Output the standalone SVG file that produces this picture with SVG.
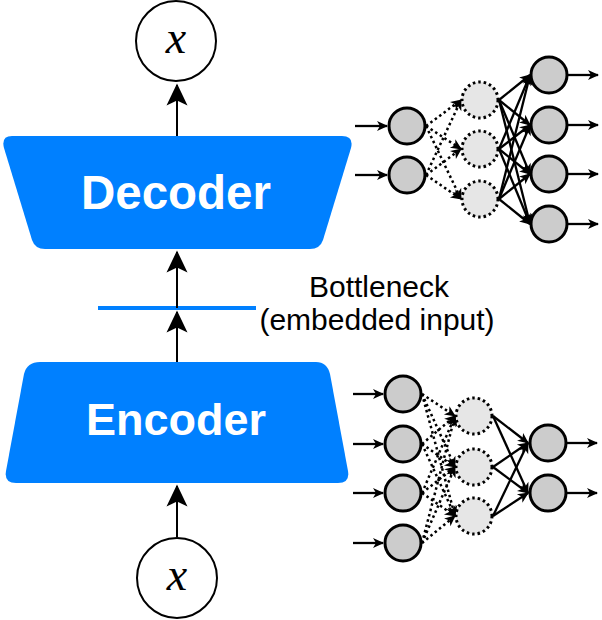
<svg xmlns="http://www.w3.org/2000/svg" width="602" height="620" viewBox="0 0 602 620">
<style>
.blk{fill:#0080ff}
.lbl{font-family:"Liberation Sans",Arial,sans-serif;font-weight:bold;fill:#fff;text-anchor:middle}
.bn{font-family:"Liberation Sans",Arial,sans-serif;font-size:30px;fill:#000;text-anchor:middle}
.xc{fill:#fff;stroke:#000;stroke-width:2}
.xt{font-family:"Liberation Serif","Times New Roman",serif;font-style:italic;font-size:46px;fill:#000;text-anchor:middle}
.n{fill:#cccccc;stroke:#000;stroke-width:3}
.h{fill:#e6e6e6;stroke:#000;stroke-width:3;stroke-dasharray:2.5 3}
.big{stroke:#000;stroke-width:2;fill:none;marker-end:url(#ab)}
.s{stroke:#000;stroke-width:2.3;fill:none;marker-end:url(#as)}
.d{stroke:#000;stroke-width:2.5;stroke-dasharray:2.5 3;fill:none;marker-end:url(#as)}
</style>
<defs>
<marker id="ab" markerUnits="userSpaceOnUse" viewBox="-24 -12 26 24" markerWidth="26" markerHeight="24" refX="-1.5" refY="0" orient="auto"><path d="M0,0 L-22,-10.5 L-17,0 L-22,10.5 Z" fill="#000"/></marker>
<marker id="as" markerUnits="userSpaceOnUse" viewBox="-12 -7 14 14" markerWidth="14" markerHeight="14" refX="-1" refY="0" orient="auto"><path d="M0,0 L-11,-5 L-8,0 L-11,5 Z" fill="#000"/></marker>
</defs>

<g id="decoder">
<path class="blk" d="M12,136 L342,136 Q354,136 351,148 L323,240 Q320,249 310,249 L45,249 Q35,249 32,240 L4,148 Q1,136 12,136 Z"/>
<text class="lbl" x="176" y="209" font-size="47.5">Decoder</text>
</g>
<g id="encoder">
<path class="blk" d="M40,362 L316,362 Q327,362 330,374 L348,471 Q350,483 338,483 L16,483 Q4,483 6,471 L24,374 Q27,362 40,362 Z"/>
<text class="lbl" x="176" y="435" font-size="45">Encoder</text>
</g>
<g id="x-out">
<circle class="xc" cx="176" cy="41" r="40"/>
<text class="xt" x="176" y="53">x</text>
</g>
<g id="x-in">
<circle class="xc" cx="177" cy="578" r="40"/>
<text class="xt" x="177" y="590">x</text>
</g>
<g id="bottleneck">
<line x1="98" y1="308" x2="256" y2="308" stroke="#0080ff" stroke-width="4"/>
<text class="bn" x="379" y="297">Bottleneck</text>
<text class="bn" x="377" y="330">(embedded input)</text>
</g>

<g id="decoder-net">
<circle class="n" cx="407" cy="126" r="18"/>
<circle class="n" cx="407" cy="175" r="18"/>
<circle class="h" cx="480" cy="100" r="18"/>
<circle class="h" cx="480" cy="149" r="18"/>
<circle class="h" cx="480" cy="199" r="18"/>
<circle class="n" cx="549" cy="75" r="18"/>
<circle class="n" cx="549" cy="125" r="18"/>
<circle class="n" cx="549" cy="174" r="18"/>
<circle class="n" cx="549" cy="224" r="18"/>
</g>
<g id="encoder-net">
<circle class="n" cx="403" cy="394" r="18"/>
<circle class="n" cx="403" cy="444" r="18"/>
<circle class="n" cx="403" cy="493" r="18"/>
<circle class="n" cx="403" cy="543" r="18"/>
<circle class="h" cx="474" cy="416" r="18"/>
<circle class="h" cx="474" cy="467" r="18"/>
<circle class="h" cx="474" cy="516" r="18"/>
<circle class="n" cx="548" cy="443" r="18"/>
<circle class="n" cx="548" cy="493" r="18"/>
</g>

<g id="connectors">
<line class="big" x1="177" y1="136" x2="177" y2="85"/>
<line class="big" x1="177" y1="308" x2="177" y2="252"/>
<line class="big" x1="177" y1="362" x2="177" y2="312"/>
<line class="big" x1="177" y1="537" x2="177" y2="486"/>

<line class="s" x1="355" y1="126" x2="387" y2="126"/>
<line class="s" x1="355" y1="175" x2="387" y2="175"/>
<line class="d" x1="426" y1="126" x2="461" y2="100"/>
<line class="d" x1="426" y1="126" x2="461" y2="149"/>
<line class="d" x1="426" y1="126" x2="461" y2="199"/>
<line class="d" x1="426" y1="175" x2="461" y2="100"/>
<line class="d" x1="426" y1="175" x2="461" y2="149"/>
<line class="d" x1="426" y1="175" x2="461" y2="199"/>
<line class="s" x1="499" y1="100" x2="530" y2="75"/>
<line class="s" x1="499" y1="100" x2="530" y2="125"/>
<line class="s" x1="499" y1="100" x2="530" y2="174"/>
<line class="s" x1="499" y1="100" x2="530" y2="224"/>
<line class="s" x1="499" y1="149" x2="530" y2="75"/>
<line class="s" x1="499" y1="149" x2="530" y2="125"/>
<line class="s" x1="499" y1="149" x2="530" y2="174"/>
<line class="s" x1="499" y1="149" x2="530" y2="224"/>
<line class="s" x1="499" y1="199" x2="530" y2="75"/>
<line class="s" x1="499" y1="199" x2="530" y2="125"/>
<line class="s" x1="499" y1="199" x2="530" y2="174"/>
<line class="s" x1="499" y1="199" x2="530" y2="224"/>
<line class="s" x1="568" y1="75" x2="598" y2="75"/>
<line class="s" x1="568" y1="125" x2="598" y2="125"/>
<line class="s" x1="568" y1="174" x2="598" y2="174"/>
<line class="s" x1="568" y1="224" x2="598" y2="224"/>

<line class="s" x1="353" y1="394" x2="383" y2="394"/>
<line class="s" x1="353" y1="444" x2="383" y2="444"/>
<line class="s" x1="353" y1="493" x2="383" y2="493"/>
<line class="s" x1="353" y1="543" x2="383" y2="543"/>
<line class="d" x1="422" y1="394" x2="455" y2="416"/>
<line class="d" x1="422" y1="394" x2="455" y2="467"/>
<line class="d" x1="422" y1="394" x2="455" y2="516"/>
<line class="d" x1="422" y1="444" x2="455" y2="416"/>
<line class="d" x1="422" y1="444" x2="455" y2="467"/>
<line class="d" x1="422" y1="444" x2="455" y2="516"/>
<line class="d" x1="422" y1="493" x2="455" y2="416"/>
<line class="d" x1="422" y1="493" x2="455" y2="467"/>
<line class="d" x1="422" y1="493" x2="455" y2="516"/>
<line class="d" x1="422" y1="543" x2="455" y2="416"/>
<line class="d" x1="422" y1="543" x2="455" y2="467"/>
<line class="d" x1="422" y1="543" x2="455" y2="516"/>
<line class="s" x1="493" y1="416" x2="528" y2="443"/>
<line class="s" x1="493" y1="416" x2="528" y2="493"/>
<line class="s" x1="493" y1="467" x2="528" y2="443"/>
<line class="s" x1="493" y1="467" x2="528" y2="493"/>
<line class="s" x1="493" y1="516" x2="528" y2="443"/>
<line class="s" x1="493" y1="516" x2="528" y2="493"/>
<line class="s" x1="567" y1="443" x2="597" y2="443"/>
<line class="s" x1="567" y1="493" x2="597" y2="493"/>
</g>
</svg>
